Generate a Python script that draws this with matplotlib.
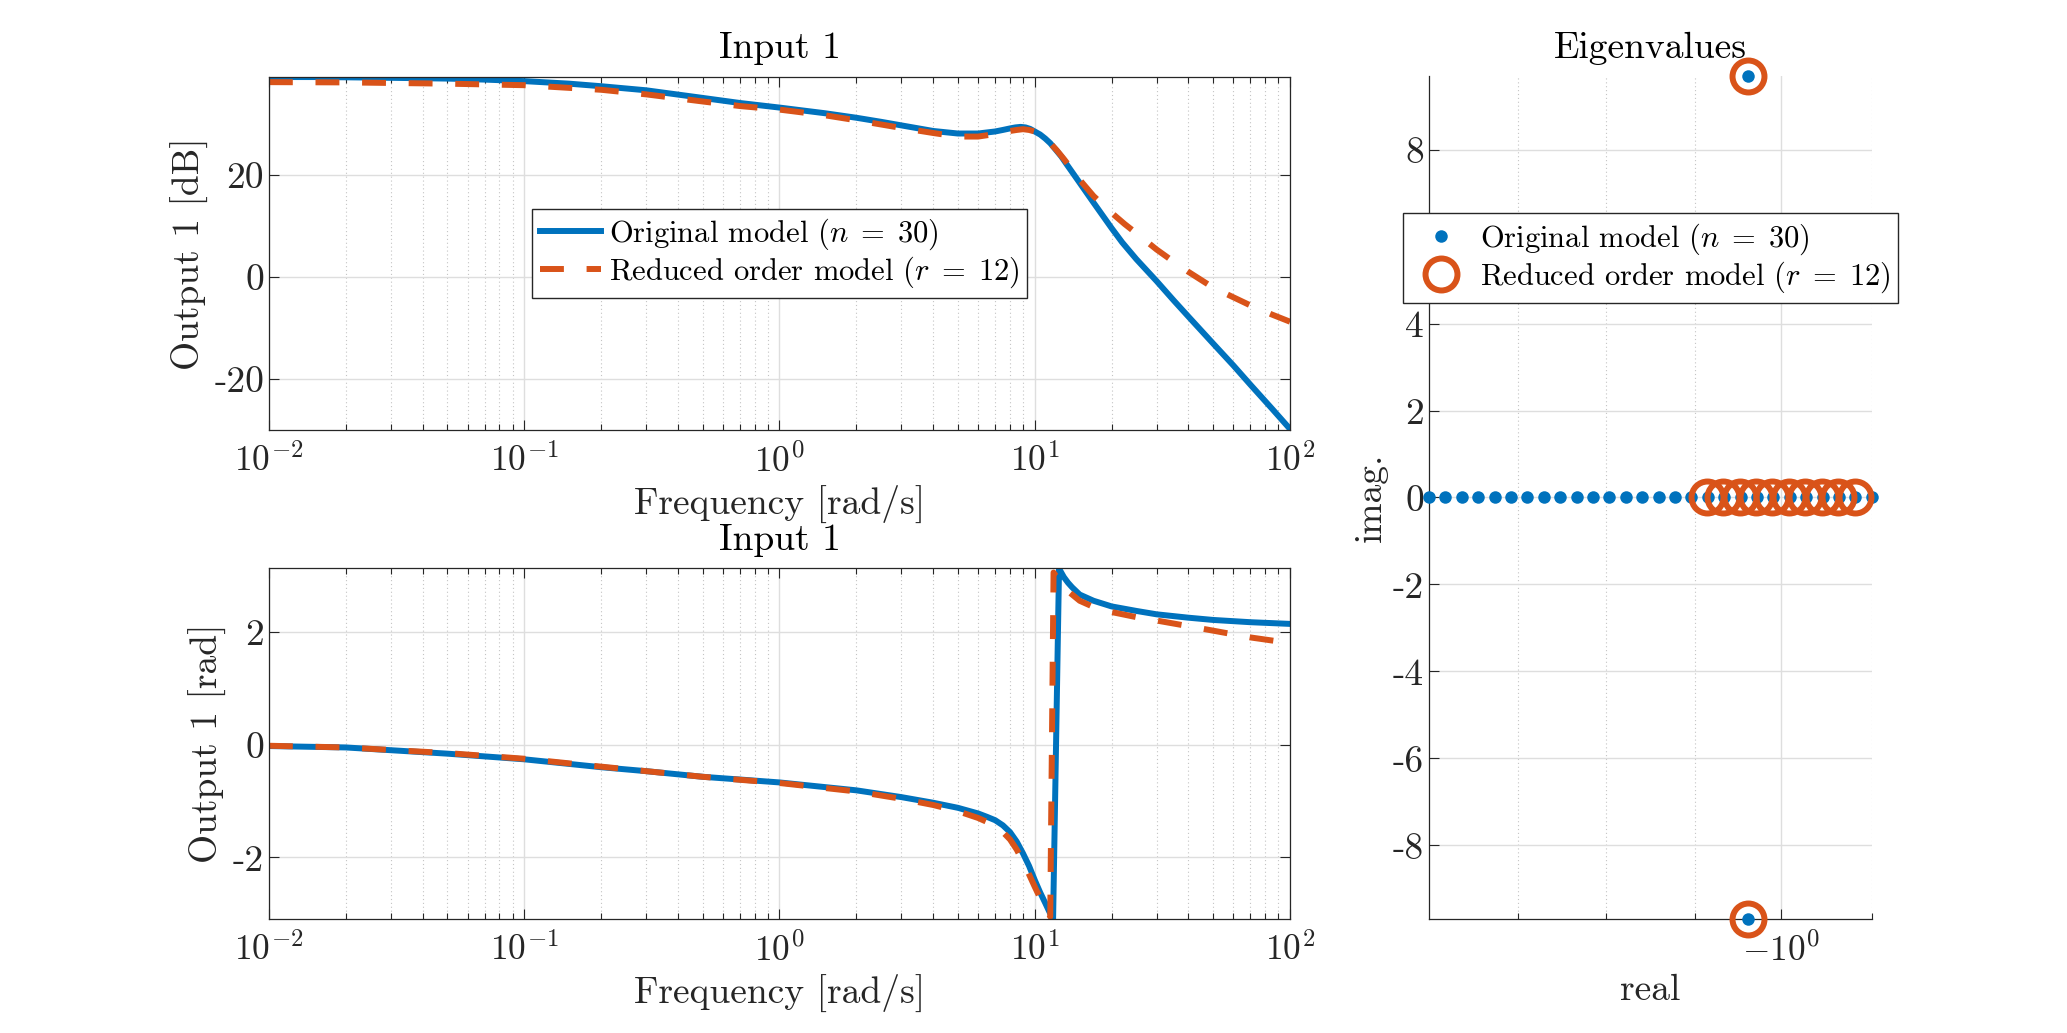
import matplotlib
matplotlib.use("Agg")
import matplotlib.pyplot as plt
from matplotlib.ticker import FixedLocator, NullFormatter, LogLocator

plt.rcParams.update({
    "font.family": "serif",
    "font.serif": ["cmr10"],
    "mathtext.fontset": "cm",
    "axes.unicode_minus": False,
    "axes.formatter.use_mathtext": True,
})

# ---------------- data ----------------
# Bode magnitude (dB), original model (n = 30)
freq_mag_orig = [0.01, 0.015, 0.02, 0.03, 0.05, 0.07, 0.1, 0.15, 0.2, 0.3, 0.5, 0.7,
                 1.0, 1.5, 2.0, 2.5, 3.0, 4.0, 5.0, 6.0, 7.0, 7.5, 8.0, 8.4, 8.8, 9.2,
                 9.6, 10.0, 10.5, 11.0, 11.5, 12.0, 12.7, 13.4, 15.0, 17.0, 18.5, 20.0,
                 22.0, 25.0, 30.0, 35.0, 40.0, 50.0, 60.0, 70.0, 85.0, 100.0]
mag_orig = [39.3, 39.3, 39.25, 39.15, 39.0, 38.8, 38.5, 38.0, 37.5, 36.7, 35.2, 34.2,
            33.3, 32.2, 31.3, 30.5, 29.8, 28.7, 28.2, 28.2, 28.6, 28.9, 29.2, 29.4, 29.5,
            29.4, 29.1, 28.6, 28.0, 27.2, 26.3, 25.2, 23.7, 22.0, 18.5, 14.6, 12.0, 9.6,
            6.8, 3.5, -0.8, -4.6, -7.8, -13.1, -17.4, -21.2, -25.9, -29.9]

# Bode magnitude (dB), reduced order model (r = 12)
freq_mag_red = [0.01, 0.02, 0.05, 0.1, 0.2, 0.3, 0.5, 0.7, 1.0, 1.5, 2.0, 3.0, 4.0,
                5.0, 6.0, 7.0, 7.5, 8.0, 8.5, 9.0, 9.5, 10.0, 10.7, 11.5, 12.2, 13.0,
                14.0, 15.0, 17.0, 20.0, 22.5, 25.0, 30.0, 35.0, 40.0, 50.0, 60.0, 70.0,
                85.0, 100.0]
mag_red = [38.3, 38.25, 38.0, 37.7, 36.8, 35.9, 34.5, 33.6, 32.9, 31.8, 30.8, 29.3, 28.3,
           27.6, 27.6, 28.1, 28.4, 28.7, 28.9, 29.05, 28.9, 28.6, 27.6, 26.3, 24.9, 23.2,
           21.1, 19.1, 15.9, 12.6, 10.4, 8.6, 5.4, 3.0, 1.0, -2.1, -4.0, -5.6,
           -7.4, -8.8]

# Bode phase (rad), original model
freq_ph_orig = [0.01, 0.02, 0.05, 0.1, 0.2, 0.3, 0.5, 1.0, 2.0, 3.0, 4.0, 5.0, 6.0,
                6.5, 7.0, 7.5, 8.0, 8.5, 9.0, 9.5, 10.0, 10.5, 11.0, 11.4, 11.8, 12.45,
                13.0, 13.5, 14.0, 15.0, 17.0, 20.0, 25.0, 30.0, 40.0, 50.0, 70.0, 100.0]
ph_orig = [-0.025, -0.05, -0.16, -0.26, -0.40, -0.47, -0.57, -0.67, -0.81, -0.93, -1.03,
           -1.12, -1.22, -1.28, -1.34, -1.43, -1.55, -1.72, -1.93, -2.15, -2.40, -2.62,
           -2.81, -2.96, -3.09, 3.12, 2.97, 2.87, 2.79, 2.66, 2.55, 2.45, 2.37, 2.31,
           2.25, 2.21, 2.17, 2.14]

# Bode phase (rad), reduced order model
freq_ph_red = [0.01, 0.02, 0.05, 0.1, 0.2, 0.3, 0.5, 1.0, 2.0, 3.0, 4.0, 5.0, 6.0,
               6.5, 7.0, 7.5, 8.0, 8.5, 9.0, 9.5, 10.0, 10.5, 11.0, 11.5, 11.85, 12.6,
               13.5, 15.0, 17.0, 20.0, 25.0, 30.0, 40.0, 50.0, 70.0, 100.0]
ph_red = [-0.02, -0.05, -0.15, -0.25, -0.39, -0.47, -0.57, -0.68, -0.83, -0.96, -1.07,
          -1.18, -1.30, -1.37, -1.45, -1.55, -1.68, -1.86, -2.08, -2.30, -2.52, -2.72,
          -2.88, -3.05, 3.05, 2.88, 2.72, 2.55, 2.44, 2.35, 2.26, 2.20, 2.10, 2.02,
          1.90, 1.80]

# Eigenvalues
eig_orig_re = [-1.5, -1.47189, -1.44430, -1.41723, -1.39067, -1.36461, -1.33903,
               -1.31394, -1.28931, -1.26515, -1.24144, -1.21817, -1.19534, -1.17294,
               -1.15096, -1.12939, -1.10822, -1.08745, -1.06707, -1.04707, -1.02745,
               -1.00819, -0.98930, -0.97076, -0.95256, -0.93471, -0.91719, -0.9,
               -1.038, -1.038]
eig_orig_im = [0.0] * 28 + [9.69, -9.69]
eig_red_re = [-1.0890, -1.0685, -1.0484, -1.0287, -1.0093, -0.9903, -0.9717, -0.9533,
              -0.9354, -0.9178, -1.038, -1.038]
eig_red_im = [0.0] * 10 + [9.69, -9.69]

label_orig = r"Original model ($n\;=\;30$)"
label_red = r"Reduced order model ($r\;=\;12$)"

BLUE = "#0072BD"
ORANGE = "#D95319"
AXC = "#262626"
FS = 27
LFS = 22

fig = plt.figure(figsize=(20.67, 10.33), dpi=100)
ax1 = fig.add_axes([0.1301, 0.5837, 0.4940, 0.3422])
ax2 = fig.add_axes([0.1301, 0.1104, 0.4940, 0.3397])
ax3 = fig.add_axes([0.6913, 0.1104, 0.2143, 0.8160])


def style(ax, box=True):
    ax.tick_params(which="both", direction="in", top=box, right=box, colors=AXC, width=0.8)
    ax.tick_params(which="major", length=7, labelsize=FS)
    ax.tick_params(which="minor", length=4)
    ax.tick_params(axis="x", which="major", labelsize=25.5, pad=10)
    for s in ax.spines.values():
        s.set_color(AXC)
        s.set_linewidth(0.9)
    if not box:
        ax.spines["top"].set_visible(False)
        ax.spines["right"].set_visible(False)
    ax.grid(True, which="major", color="#dedede", linewidth=1.0, linestyle="-")
    ax.grid(True, which="minor", axis="x", color="#c4c4c4", linewidth=0.8,
            linestyle=(0, (1, 2.5)))
    ax.set_axisbelow(True)


def legend(ax, **kw):
    leg = ax.legend(fontsize=LFS, frameon=True, fancybox=False, framealpha=1,
                    edgecolor=AXC, borderpad=0.25, handletextpad=0.25, labelspacing=0.1,
                    handlelength=2.0, borderaxespad=0, **kw)
    leg.get_frame().set_linewidth(1.0)
    leg.set_zorder(10)
    return leg


dash = (0, (4, 3.8))

# ---- magnitude ----
ax1.semilogx(freq_mag_orig, mag_orig, color=BLUE, lw=4.3, label=label_orig)
ax1.semilogx(freq_mag_red, mag_red, color=ORANGE, lw=4.3, linestyle=dash, label=label_red)
ax1.set_xlim(1e-2, 1e2)
ax1.set_ylim(-30.1, 39.4)
ax1.set_yticks([-20, 0, 20], labels=["-20", "0", "20"])
ax1.xaxis.set_major_locator(LogLocator(base=10, numticks=10))
ax1.xaxis.set_minor_locator(LogLocator(base=10, subs=range(2, 10), numticks=20))
ax1.xaxis.set_minor_formatter(NullFormatter())
style(ax1)
ax1.set_title("Input 1", fontsize=FS, pad=13)
ax1.set_ylabel("Output 1 [dB]", fontsize=FS, color=AXC)
ax1.set_xlabel("Frequency [rad/s]", fontsize=FS, color=AXC, labelpad=4)
legend(ax1, loc="center")

# ---- phase ----
ax2.semilogx(freq_ph_orig, ph_orig, color=BLUE, lw=4.3)
ax2.semilogx(freq_ph_red, ph_red, color=ORANGE, lw=4.3, linestyle=dash)
ax2.set_xlim(1e-2, 1e2)
ax2.set_ylim(-3.09, 3.13)
ax2.set_yticks([-2, 0, 2], labels=["-2", "0", "2"])
ax2.xaxis.set_major_locator(LogLocator(base=10, numticks=10))
ax2.xaxis.set_minor_locator(LogLocator(base=10, subs=range(2, 10), numticks=20))
ax2.xaxis.set_minor_formatter(NullFormatter())
style(ax2)
ax2.set_title("Input 1", fontsize=FS, pad=13)
ax2.set_ylabel("Output 1 [rad]", fontsize=FS, color=AXC)
ax2.set_xlabel("Frequency [rad/s]", fontsize=FS, color=AXC, labelpad=4)

# ---- eigenvalues ----
ax3.set_xscale("symlog", linthresh=0.01)
ax3.plot(eig_orig_re, eig_orig_im, "o", color=BLUE, ms=9, mec="none", clip_on=False,
         zorder=3, label=label_orig)
ax3.plot(eig_red_re, eig_red_im, "o", mfc="none", mec=ORANGE, ms=23, mew=4.3,
         clip_on=False, zorder=4, label=label_red)
ax3.set_xlim(min(eig_orig_re), max(eig_orig_re))
ax3.set_ylim(min(eig_orig_im), max(eig_orig_im))
ax3.set_xticks([-1.0], labels=[r"$-10^{0}$"])
ax3.xaxis.set_minor_locator(FixedLocator([-1.354, -1.223, -1.104, -0.9]))
ax3.xaxis.set_minor_formatter(NullFormatter())
ax3.set_yticks([-8, -6, -4, -2, 0, 2, 4, 8],
               labels=["-8", "-6", "-4", "-2", "0", "2", "4", "8"])
style(ax3, box=False)
ax3.set_title("Eigenvalues", fontsize=FS, pad=13)
ax3.set_ylabel("imag.", fontsize=FS, color=AXC)
ax3.set_xlabel("real", fontsize=FS, color=AXC)
legend(ax3, loc="center", bbox_to_anchor=(0.5, 0.784))

fig.savefig("out.png", dpi=100, facecolor="white")
